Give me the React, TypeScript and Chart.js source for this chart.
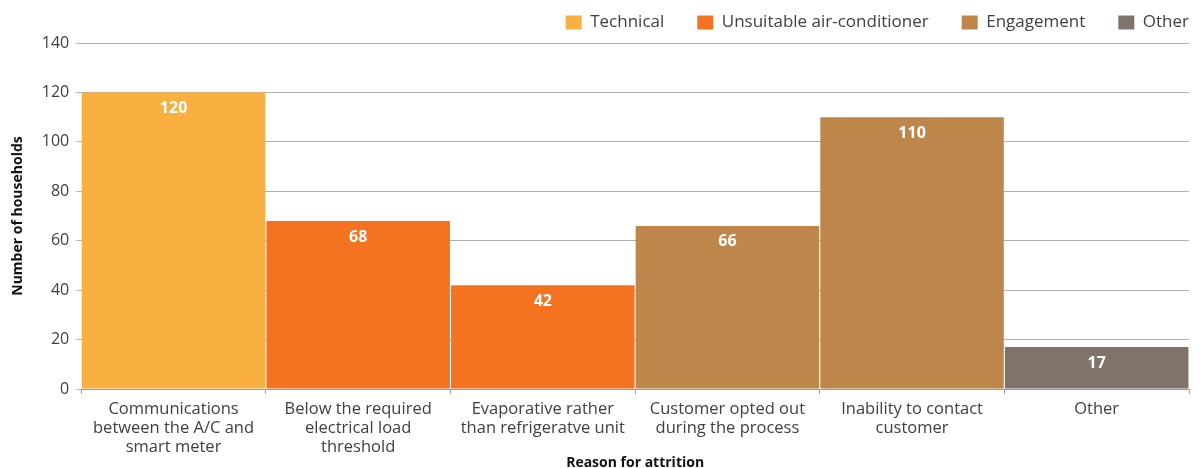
import React, { useEffect, useRef } from "react";
import { Chart, registerables } from "chart.js";

Chart.register(...registerables);

const categories: string[][] = [
  ["Communications", "between the A/C and", "smart meter"],
  ["Below the required", "electrical load", "threshold"],
  ["Evaporative rather", "than refrigeratve unit"],
  ["Customer opted out", "during the process"],
  ["Inability to contact", "customer"],
  ["Other"],
];

const technical = [120, null, null, null, null, null];
const unsuitable = [null, 68, 42, null, null, null];
const engagement = [null, null, null, 66, 110, null];
const other = [null, null, null, null, null, 17];

const seriesNames = ["Technical", "Unsuitable air-conditioner", "Engagement", "Other"];
const seriesColors = ["#FAB040", "#F37321", "#BE864B", "#80736A"];
const yTicks = [0, 20, 40, 60, 80, 100, 120, 140];

const FONT = "'Open Sans', sans-serif";
const TEXT = "#404040";
const LEGEND_PAD = 33;

const labelPlugin = {
  id: "barLabels",
  afterDatasetsDraw(chart: any) {
    const ctx = chart.ctx;
    ctx.save();
    ctx.fillStyle = "#ffffff";
    ctx.font = `bold 16px ${FONT}`;
    ctx.textAlign = "center";
    ctx.textBaseline = "middle";
    chart.data.datasets.forEach((ds: any, i: number) => {
      const meta = chart.getDatasetMeta(i);
      meta.data.forEach((bar: any, j: number) => {
        const v = ds.data[j];
        if (v === null || v === undefined) return;
        ctx.fillText(String(v), bar.x, bar.y + 16);
      });
    });
    ctx.restore();
  },
};

const legendGapPlugin = {
  id: "legendGap",
  beforeInit(chart: any) {
    const legend = chart.legend;
    if (!legend) return;
    const origFit = legend.fit;
    legend.fit = function () {
      origFit.call(this);
      this.height += 2;
    };
  },
  afterLayout(chart: any) {
    const legend = chart.legend;
    if (legend) legend.right += LEGEND_PAD;
  },
};

export default function App() {
  const ref = useRef<HTMLCanvasElement>(null);
  useEffect(() => {
    document.body.style.margin = "0";
    const data = [technical, unsuitable, engagement, other];
    const chart = new Chart(ref.current!, {
      type: "bar",
      data: {
        labels: categories,
        datasets: data.map((d, i) => ({
          label: seriesNames[i],
          data: d,
          backgroundColor: seriesColors[i],
          borderWidth: 0,
          barPercentage: 0.994,
          categoryPercentage: 1,
        })),
      },
      options: {
        animation: false,
        responsive: false,
        maintainAspectRatio: false,
        layout: { padding: { left: 4, right: 14, top: -19, bottom: 0 } },
        plugins: {
          legend: {
            position: "top",
            align: "end",
            labels: {
              boxWidth: 16,
              boxHeight: 14,
              padding: LEGEND_PAD,
              color: TEXT,
              font: { family: FONT, size: 17 },
            },
          },
          tooltip: { enabled: false },
        },
        scales: {
          x: {
            stacked: true,
            grid: {
              display: true,
              drawOnChartArea: false,
              drawTicks: true,
              tickLength: 5,
              color: "#9a9a9a",
            },
            border: { display: true, color: "#9a9a9a", width: 1 },
            ticks: {
              color: TEXT,
              font: { family: FONT, size: 16.5, lineHeight: 19 / 16.5 },
              maxRotation: 0,
              autoSkip: false,
              padding: 6,
            },
            title: {
              display: true,
              text: "Reason for attrition",
              color: "#111",
              font: { family: FONT, size: 14, weight: "bold", lineHeight: 1 },
              padding: { top: -7, bottom: -2 },
            },
          },
          y: {
            stacked: true,
            min: 0,
            max: 140,
            afterBuildTicks: (axis: any) => {
              axis.ticks = yTicks.map((v) => ({ value: v }));
            },
            grid: {
              color: "#b0b0b0",
              tickLength: 5,
              drawTicks: true,
            },
            border: { display: false },
            ticks: {
              color: TEXT,
              font: { family: FONT, size: 16 },
              padding: 7,
            },
            title: {
              display: true,
              text: "Number of households",
              color: "#111",
              font: { family: FONT, size: 14, weight: "bold" },
              padding: { top: 6, bottom: 8 },
            },
          },
        },
      },
      plugins: [labelPlugin, legendGapPlugin],
    });
    return () => chart.destroy();
  }, []);
  return (
    <div style={{ width: 1203, height: 468 }}>
      <canvas ref={ref} width={1203} height={468} style={{ width: 1203, height: 468 }} />
    </div>
  );
}
